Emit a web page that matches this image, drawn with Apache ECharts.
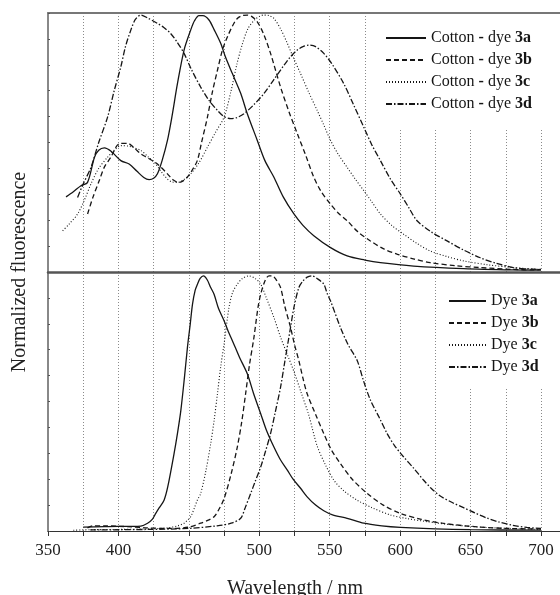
<!DOCTYPE html>
<html>
<head>
<meta charset="utf-8">
<script src="https://cdn.jsdelivr.net/npm/echarts@6/dist/echarts.min.js"></script>
<style>html,body{margin:0;padding:0;background:#fff;}#c{width:560px;height:595px;}</style>
</head>
<body>
<div id="c"></div>
<script>
// ---- Data (wavelength nm, normalized fluorescence) ----
const xTickLabels = [350, 400, 450, 500, 550, 600, 650, 700];
const topNames = ['Cotton - dye 3a', 'Cotton - dye 3b', 'Cotton - dye 3c', 'Cotton - dye 3d'];
const bottomNames = ['Dye 3a', 'Dye 3b', 'Dye 3c', 'Dye 3d'];

const cotton3a = [[362.8,0.29],[368,0.31],[373.4,0.333],[378,0.345],[383,0.443],[386,0.47],[390,0.479],[395,0.465],[401.7,0.43],[407.6,0.417],[413,0.39],[418,0.365],[421.8,0.357],[425,0.362],[427.7,0.379],[431,0.43],[434.8,0.508],[438,0.6],[441.9,0.727],[446.6,0.857],[451.3,0.934],[454,0.97],[457.2,0.99],[460,0.99],[464.3,0.973],[468,0.935],[472.6,0.883],[476,0.83],[480.9,0.766],[486.8,0.69],[491.5,0.611],[498.6,0.508],[504,0.43],[510.4,0.366],[517,0.29],[524.6,0.224],[531,0.18],[538.7,0.14],[550.6,0.094],[562.4,0.062],[575,0.046],[586,0.036],[609.6,0.023],[645,0.013],[680,0.008],[700,0.007]];
const cotton3b = [[378.1,0.224],[382,0.29],[386.4,0.353],[390,0.405],[394.6,0.443],[400.5,0.495],[406.5,0.497],[411,0.48],[415.9,0.456],[421,0.44],[427.7,0.417],[434.8,0.379],[439,0.355],[443,0.346],[446,0.352],[448.9,0.366],[452,0.39],[456,0.43],[459,0.5],[463.2,0.598],[466.5,0.69],[470.3,0.779],[474,0.86],[477.4,0.908],[481,0.95],[484.4,0.979],[488,0.99],[491.5,0.992],[495,0.985],[498.6,0.966],[503,0.92],[508,0.844],[515.1,0.714],[521,0.62],[527,0.534],[533,0.45],[538.7,0.366],[544,0.31],[550.6,0.262],[556,0.228],[562.4,0.198],[570,0.155],[578.9,0.12],[588,0.09],[597.8,0.069],[610,0.05],[621.4,0.036],[640,0.024],[656.9,0.017],[680,0.01],[695,0.008],[700,0.01]];
const cotton3c = [[360.4,0.159],[365,0.185],[371,0.224],[376,0.28],[380.5,0.34],[386,0.4],[392.3,0.443],[397,0.47],[401.7,0.488],[408,0.485],[415.9,0.469],[421,0.445],[426.5,0.417],[430,0.39],[434.8,0.359],[438,0.348],[441.9,0.346],[446,0.355],[451.3,0.379],[457,0.42],[463.2,0.482],[469,0.54],[475,0.598],[480,0.7],[484,0.8],[488,0.88],[492,0.94],[497,0.975],[503,0.992],[507,0.99],[510.4,0.979],[515,0.94],[519.9,0.883],[524,0.83],[529.3,0.766],[535,0.695],[541.1,0.624],[546,0.565],[550.6,0.508],[556,0.455],[562.4,0.404],[568,0.36],[574.2,0.314],[580,0.27],[586,0.224],[594,0.18],[602.5,0.146],[612,0.11],[621.4,0.081],[633,0.06],[645,0.043],[662,0.028],[680.5,0.017],[700,0.01]];
const cotton3d = [[371,0.288],[375,0.34],[380.5,0.404],[386,0.5],[392.3,0.598],[397,0.7],[401.7,0.792],[405,0.87],[408.8,0.934],[412,0.975],[415.9,0.992],[421,0.98],[427.7,0.96],[432,0.945],[437.2,0.92],[442,0.885],[446.6,0.844],[452,0.78],[458.4,0.714],[464,0.665],[470.3,0.624],[475,0.6],[479.7,0.592],[484,0.596],[489.1,0.611],[496,0.645],[503.3,0.689],[510,0.74],[517.5,0.798],[522,0.83],[527,0.857],[531,0.87],[535.2,0.876],[540,0.87],[545.8,0.844],[552,0.8],[560,0.727],[567,0.645],[574.2,0.559],[580,0.49],[586,0.43],[593,0.36],[600.2,0.301],[606,0.25],[612,0.198],[622,0.155],[633.3,0.12],[645,0.085],[656.9,0.055],[668,0.034],[680.5,0.017],[690,0.012],[699,0.01]];

const dye3a = [[375,0.015],[390,0.017],[400,0.018],[410,0.018],[415.9,0.019],[420.7,0.03],[424,0.045],[426.5,0.068],[429,0.09],[432.4,0.119],[435,0.17],[439.5,0.299],[442,0.38],[444.3,0.465],[447,0.6],[449,0.709],[451,0.8],[452.6,0.876],[454.5,0.93],[456.1,0.953],[458,0.975],[460.4,0.985],[463,0.97],[465.5,0.94],[467.9,0.914],[471,0.86],[475,0.812],[478,0.77],[480.9,0.735],[486,0.67],[491.5,0.607],[496,0.53],[501,0.453],[505,0.39],[510.4,0.324],[515,0.275],[519.9,0.235],[524,0.2],[529.3,0.165],[534,0.132],[540,0.1],[545.8,0.078],[552,0.062],[562.4,0.049],[574.2,0.03],[587,0.02],[600.2,0.014],[625,0.008],[650,0.005],[700,0.003]];
const dye3b = [[378,0.012],[382,0.02],[390,0.02],[400,0.018],[410,0.016],[420,0.012],[435,0.01],[450,0.015],[458.4,0.03],[463,0.04],[467.9,0.055],[471,0.08],[475,0.125],[480,0.22],[484.4,0.324],[487.5,0.42],[490.3,0.53],[493,0.64],[496.2,0.747],[499,0.86],[501,0.914],[504.5,0.972],[507,0.985],[509.3,0.985],[512,0.97],[515.1,0.94],[518,0.87],[522.2,0.786],[525,0.72],[528.1,0.658],[531,0.59],[534,0.53],[540,0.45],[545.8,0.376],[551,0.315],[557.6,0.26],[566,0.2],[576.6,0.145],[588,0.1],[600.2,0.068],[615,0.045],[630,0.03],[650,0.018],[675,0.01],[700,0.008]];
const dye3c = [[368,0.003],[380,0.005],[400,0.006],[420,0.008],[435,0.012],[442,0.02],[446.6,0.03],[449,0.042],[451.3,0.055],[454,0.09],[456,0.119],[458.4,0.145],[462,0.23],[465.5,0.337],[468,0.43],[470.3,0.53],[472.5,0.63],[475,0.722],[478.5,0.863],[481,0.92],[484.4,0.953],[488,0.975],[492.7,0.985],[497,0.975],[501,0.953],[505,0.9],[510.4,0.824],[515,0.75],[520,0.68],[525,0.61],[530,0.53],[535,0.45],[541,0.33],[547,0.255],[553,0.196],[560,0.155],[569.5,0.119],[580,0.09],[593.1,0.062],[605,0.048],[616.7,0.038],[635,0.025],[660,0.014],[700,0.006]];
const dye3d = [[380,0.004],[420,0.006],[450,0.01],[470,0.02],[480,0.03],[486.8,0.049],[490,0.09],[493.9,0.145],[497,0.19],[501,0.247],[504,0.3],[508,0.376],[511,0.45],[515.1,0.555],[518,0.65],[522.2,0.786],[524.6,0.863],[528.1,0.94],[531,0.965],[534,0.98],[537.6,0.985],[541,0.975],[545.8,0.953],[548,0.92],[550.6,0.888],[557.6,0.786],[563,0.72],[569.5,0.658],[574,0.58],[579,0.504],[585,0.44],[590.8,0.376],[596,0.33],[602.5,0.286],[610,0.24],[616.7,0.196],[622,0.165],[628.5,0.135],[637,0.11],[645,0.09],[653,0.07],[661.6,0.05],[670,0.035],[680,0.022],[690,0.014],[700,0.01]];

// ---- Styles ----
const SERIF = '"Liberation Serif", "DejaVu Serif", serif';
const INK = '#151515';
const dashTypes = ['solid', [5, 3], [1, 2], [6, 2, 1.5, 2]];
const topData = [cotton3a, cotton3b, cotton3c, cotton3d];
const bottomData = [dye3a, dye3b, dye3c, dye3d];

function mkSeries(name, data, idx, axisIdx) {
  return {
    type: 'line', name: name, data: data,
    xAxisIndex: axisIdx, yAxisIndex: axisIdx,
    showSymbol: false, symbol: 'none', smooth: 0.3,
    lineStyle: { color: INK, width: idx === 2 ? 1.1 : 1.3, type: dashTypes[idx] },
    itemStyle: { color: INK },
    emphasis: { disabled: true }, animation: false
  };
}
const series = [];
topNames.forEach((n, i) => series.push(mkSeries(n, topData[i], i, 0)));
bottomNames.forEach((n, i) => series.push(mkSeries(n, bottomData[i], i, 1)));

const XMIN = 350, XMAX = 713.5;
const splitLineStyle = { show: true, showMinLine: false, showMaxLine: false, lineStyle: { color: '#8a8a8a', width: 1, type: [1, 2] } };

function yAx(grid) {
  return {
    type: 'value', gridIndex: grid, min: 0, max: 1, interval: 0.1,
    axisLine: { show: true, lineStyle: { color: '#888', width: 2 } },
    axisTick: { show: true, inside: true, length: 2, lineStyle: { color: '#555' } },
    axisLabel: { show: false }, splitLine: { show: false }
  };
}

const legendRich = {
  n: { fontFamily: SERIF, fontSize: 16, color: INK },
  b: { fontFamily: SERIF, fontSize: 16, color: INK, fontWeight: 'bold' }
};
const hiddenSymbol = { opacity: 0, borderWidth: 0, color: 'rgba(0,0,0,0)' };

const option = {
  backgroundColor: '#fff',
  animation: false,
  grid: [
    { left: 48, right: 0, top: 13, height: 259 },
    { left: 48, right: 0, top: 272, height: 259 }
  ],
  xAxis: [
    { type: 'value', gridIndex: 0, min: XMIN, max: XMAX, interval: 25, position: 'top',
      axisLine: { show: true, onZero: false, lineStyle: { color: '#777', width: 2 } },
      axisTick: { show: false }, axisLabel: { show: false }, splitLine: splitLineStyle },
    { type: 'value', gridIndex: 1, min: XMIN, max: XMAX, interval: 25, position: 'bottom',
      axisLine: { show: true, onZero: false, lineStyle: { color: '#333', width: 1 } },
      axisTick: { show: true, inside: false, length: 5, lineStyle: { color: '#333' } },
      axisLabel: { show: true, margin: 11, fontFamily: SERIF, fontSize: 17, color: '#222', showMaxLabel: false,
        formatter: v => (xTickLabels.indexOf(v) >= 0 ? String(v) : '') },
      splitLine: splitLineStyle },
    { type: 'value', gridIndex: 1, min: XMIN, max: XMAX, position: 'top',
      axisLine: { show: true, onZero: false, lineStyle: { color: '#555', width: 2.5 } },
      axisTick: { show: false }, axisLabel: { show: false }, splitLine: { show: false } }
  ],
  yAxis: [yAx(0), yAx(1)],
  legend: [
    { data: topNames, orient: 'vertical', left: 378, top: 15, padding: [15, 30, 16, 7],
      itemWidth: 40, itemHeight: 14, itemGap: 6, backgroundColor: '#fff',
      selectedMode: false, itemStyle: hiddenSymbol,
      textStyle: { fontFamily: SERIF, fontSize: 16, color: INK, rich: legendRich },
      formatter: name => '{n|Cotton }{b|-}{n| dye }{b|' + name.split(' ').pop() + '}' },
    { data: bottomNames, orient: 'vertical', left: 440, top: 274, padding: [19, 30, 13, 8],
      itemWidth: 37, itemHeight: 14, itemGap: 6, backgroundColor: '#fff',
      selectedMode: false, itemStyle: hiddenSymbol,
      textStyle: { fontFamily: SERIF, fontSize: 16, color: INK, rich: legendRich },
      formatter: name => '{n|Dye }{b|' + name.split(' ').pop() + '}' }
  ],
  graphic: [
    { type: 'text', style: { text: 'Wavelength / nm', font: '20px ' + SERIF, fill: '#222', align: 'center', verticalAlign: 'middle' }, x: 295, y: 589 },
    { type: 'text', style: { text: 'Normalized fluorescence', font: '20px ' + SERIF, fill: '#222', align: 'center', verticalAlign: 'middle' }, x: 20, y: 272, rotation: Math.PI / 2 }
  ],
  series: series
};

const chart = echarts.init(document.getElementById('c'), null, { renderer: 'canvas' });
chart.setOption(option);
</script>
</body>
</html>
